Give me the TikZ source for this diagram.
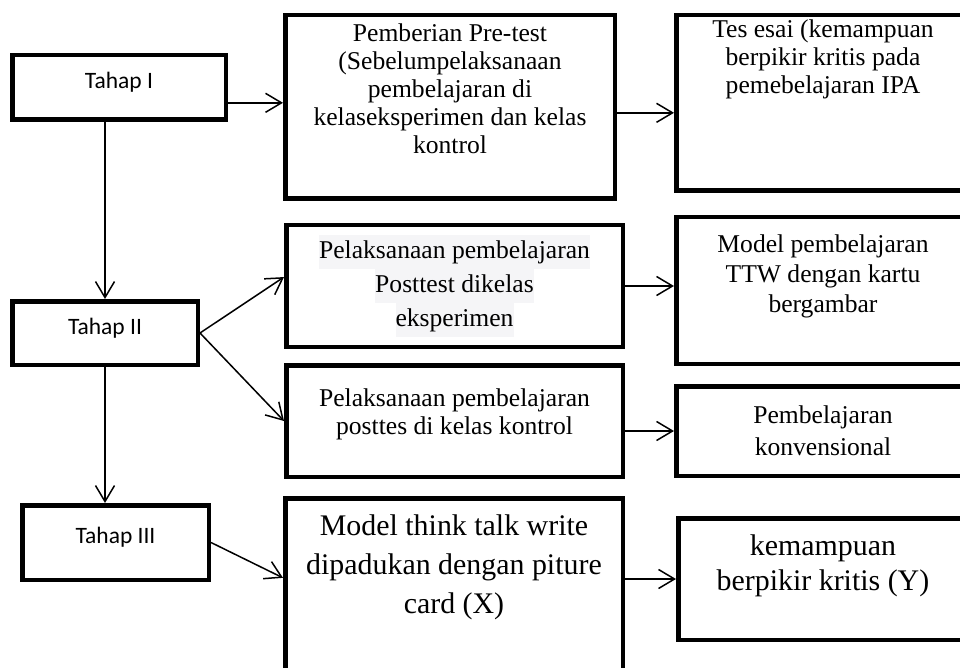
\documentclass[tikz,border=0pt]{standalone}
\usepackage{fontspec}
\setmainfont{Liberation Serif}
\newfontfamily\calibri{Carlito}
\usetikzlibrary{arrows.meta}

\definecolor{shade}{HTML}{F5F5F7}
\newcommand{\toptext}[3]{\parbox[c][#1][t]{#2}{\centering #3}}
\newcommand{\shaded}[1]{{\setlength{\fboxsep}{0pt}\colorbox{shade}{\strut #1}}}

\begin{document}
\begin{tikzpicture}[x=1pt, y=-1pt,
  stage/.style={draw, line width=4.5pt, inner sep=0pt, font=\calibri\fontsize{23.5}{28}\selectfont, text height=15pt, text depth=13pt},
  box/.style={draw, line width=4.5pt, inner sep=0pt, font=\fontsize{25.6}{28}\selectfont},
  bigbox/.style={box, font=\fontsize{29.9}{39}\selectfont},
  link/.style={line width=1.5pt, -{Straight Barb[length=16pt, width=19pt]}}]
\useasboundingbox (0,0) rectangle (960,668);
\node[stage, minimum width=213.5pt, minimum height=64.5pt] (tahapI) at (119,87.5) {Tahap I};
\node[stage, minimum width=185.5pt, minimum height=63.5pt] (tahapII) at (105,333) {Tahap II};
\node[stage, minimum width=186.5pt, minimum height=74.5pt] (tahapIII) at (115.5,542.5) {Tahap III};

\node[box, minimum width=329.5pt, minimum height=183.5pt] (pretest) at (450,107) {\toptext{167.5pt}{320pt}{Pemberian Pre-test\\(Sebelumpelaksanaan\\pembelajaran di\\kelaseksperimen dan kelas\\kontrol}};
\node[box, minimum width=293.5pt, minimum height=175.5pt] (tesesai) at (823,103) {\toptext{167.5pt}{285pt}{Tes esai (kemampuan\\berpikir kritis pada\\pemebelajaran IPA}};

\node[box, align=center, font=\fontsize{25.6}{34}\selectfont, minimum width=336.5pt, minimum height=121.5pt] (exp) at (454.5,286) {\shaded{Pelaksanaan pembelajaran}\\\shaded{Posttest dikelas}\\\shaded{eksperimen}};
\node[box, font=\fontsize{25.6}{30}\selectfont, minimum width=293.5pt, minimum height=146.5pt] (ttw) at (823,290.5) {\toptext{112.5pt}{285pt}{Model pembelajaran\\TTW dengan kartu\\bergambar}};

\node[box, minimum width=336.5pt, minimum height=111.5pt] (ctrl) at (454.5,421) {\toptext{65.5pt}{328pt}{Pelaksanaan pembelajaran\\posttes di kelas kontrol}};
\node[box, align=center, font=\fontsize{25.6}{32}\selectfont, minimum width=293.5pt, minimum height=89.5pt] (konv) at (823,431) {Pembelajaran\\konvensional};

\node[bigbox, minimum width=337.5pt, minimum height=219.5pt] (modelx) at (454,608) {\toptext{187.5pt}{328pt}{Model think talk write\\dipadukan dengan piture\\card (X)}};
\node[bigbox, font=\fontsize{29.9}{35}\selectfont, minimum width=289.5pt, minimum height=121.5pt] (kemampuan) at (823,579) {\toptext{89.5pt}{280pt}{kemampuan\\berpikir kritis (Y)}};

\draw[link] (tahapI.-8) -- (tahapI.-8 -| pretest.west);
\draw[link] (pretest.-2) -- (pretest.-2 -| tesesai.west);
\draw[link] (tahapII.north |- tahapI.south) -- (tahapII.north);
\draw[link] (tahapII.east) -- (exp.177);
\draw[link] (tahapII.east) -- (ctrl.west);
\draw[link] (exp.east) -- (exp.east -| ttw.west);
\draw[link] (konv.west -| ctrl.east) -- (konv.west);
\draw[link] (tahapII.south) -- (tahapII.south |- tahapIII.north);
\draw[link] (tahapIII.east) -- (modelx.170);
\draw[link] (kemampuan.west -| modelx.east) -- (kemampuan.west);
\end{tikzpicture}
\end{document}
